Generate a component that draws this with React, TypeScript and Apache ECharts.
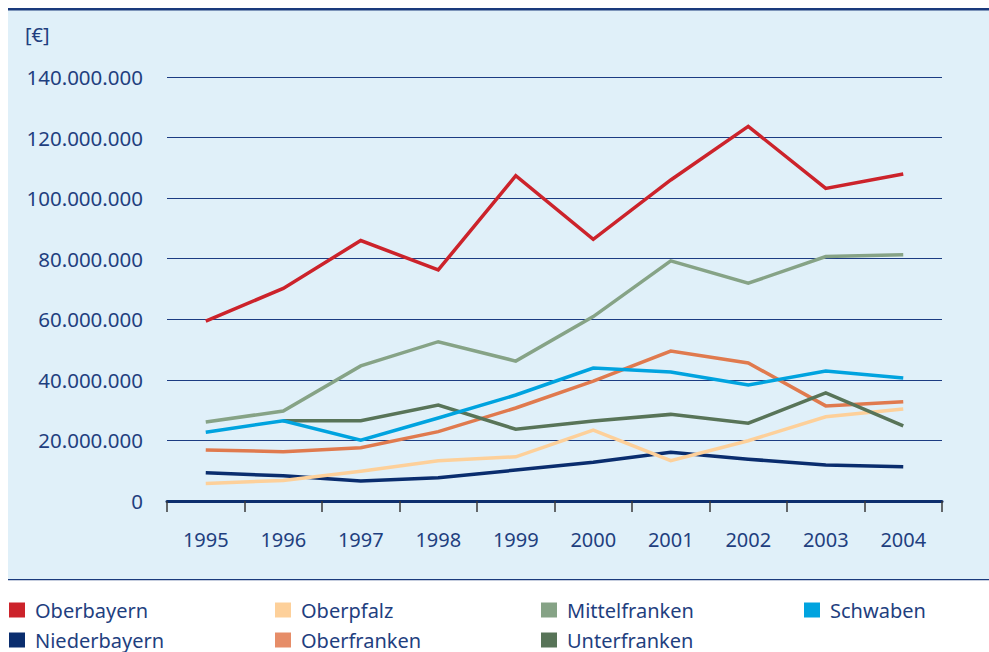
import React, { useEffect, useRef } from "react";
import * as echarts from "echarts";

const years = ["1995", "1996", "1997", "1998", "1999", "2000", "2001", "2002", "2003", "2004"];

const oberbayern = [59.4, 70.2, 86.0, 76.3, 107.4, 86.4, 106.0, 123.7, 103.2, 108.0];
const oberpfalz = [5.8, 6.8, 9.8, 13.3, 14.6, 23.4, 13.3, 19.9, 27.8, 30.4];
const mittelfranken = [26.1, 29.7, 44.6, 52.6, 46.2, 60.9, 79.3, 71.9, 80.7, 81.3];
const schwaben = [22.7, 26.5, 20.1, 27.4, 35.0, 43.9, 42.6, 38.3, 42.9, 40.6];
const niederbayern = [9.3, 8.3, 6.6, 7.7, 10.2, 12.8, 16.1, 13.8, 11.9, 11.3];
const oberfranken = [16.8, 16.3, 17.6, 22.9, 30.7, 39.6, 49.5, 45.6, 31.4, 32.8];
const unterfranken = [null, 26.5, 26.5, 31.7, 23.7, 26.4, 28.6, 25.7, 35.7, 24.8];

const yTicks = [0, 20000000, 40000000, 60000000, 80000000, 100000000, 120000000, 140000000];
const unitLabel = "[€]";

const FONT = "Noto Sans";
const TEXT = "#1f3f7f";
const NAVY = "#0d2f6e";

const toEuro = (arr: (number | null)[]) => arr.map((v) => (v == null ? null : Math.round(v * 1000000)));
const fmt = (v: number) => String(Math.round(v)).replace(/\B(?=(\d{3})+(?!\d))/g, ".");

const seriesDefs = [
  { name: "Niederbayern", data: niederbayern, color: "#0a2d6e", legendColor: "#0a2d6e" },
  { name: "Oberpfalz", data: oberpfalz, color: "#fdd09a", legendColor: "#fdd09a" },
  { name: "Oberfranken", data: oberfranken, color: "#e07a4e", legendColor: "#e68d68" },
  { name: "Unterfranken", data: unterfranken, color: "#587458", legendColor: "#587458" },
  { name: "Schwaben", data: schwaben, color: "#00a3df", legendColor: "#00a3df" },
  { name: "Mittelfranken", data: mittelfranken, color: "#86a386", legendColor: "#86a386" },
  { name: "Oberbayern", data: oberbayern, color: "#cc232b", legendColor: "#cc232b" },
];

const legendLayout = [
  { name: "Oberbayern", left: 9, top: 600 },
  { name: "Oberpfalz", left: 275, top: 600 },
  { name: "Mittelfranken", left: 541, top: 600 },
  { name: "Schwaben", left: 804, top: 600 },
  { name: "Niederbayern", left: 9, top: 630 },
  { name: "Oberfranken", left: 275, top: 630 },
  { name: "Unterfranken", left: 541, top: 630 },
];

export default function App() {
  const ref = useRef<HTMLDivElement>(null);
  useEffect(() => {
    document.body.style.margin = "0";
    if (!ref.current) return;
    const chart = echarts.init(ref.current, undefined, { renderer: "svg" });
    chart.setOption({
      animation: false,
      backgroundColor: "#ffffff",
      textStyle: { fontFamily: FONT },
      graphic: [
        { type: "rect", z: -100, shape: { x: 8, y: 10, width: 981, height: 569 }, style: { fill: "#e0f0f9" }, silent: true },
        { type: "rect", z: -99, shape: { x: 8, y: 8, width: 981, height: 2.5 }, style: { fill: "#1a3a7c" }, silent: true },
        { type: "rect", z: -99, shape: { x: 8, y: 579, width: 981, height: 1.2 }, style: { fill: "#1a3a7c" }, silent: true },
        {
          type: "text",
          left: 25,
          top: 24,
          style: { text: unitLabel, fill: TEXT, font: `20px "${FONT}"` },
        },
      ],
      grid: { left: 167, right: 47, top: 77, bottom: 151, containLabel: false },
      legend: legendLayout.map((l) => ({
        data: [l.name],
        left: l.left,
        top: l.top,
        padding: 0,
        icon: "rect",
        itemWidth: 16,
        itemHeight: 15,
        selectedMode: false,
        textStyle: { color: TEXT, fontSize: 20, fontFamily: FONT, padding: [0, 0, 0, 5] },
      })),
      xAxis: {
        type: "category",
        data: years,
        boundaryGap: true,
        axisLine: { show: true, lineStyle: { color: NAVY, width: 3 } },
        axisTick: { show: true, length: 11, lineStyle: { color: "#3a3a3a", width: 1.5 } },
        axisLabel: { color: TEXT, fontSize: 20, fontFamily: FONT, margin: 28 },
        splitLine: { show: false },
      },
      yAxis: {
        type: "value",
        min: 0,
        max: yTicks[yTicks.length - 1],
        interval: yTicks[1] - yTicks[0],
        axisLine: { show: false },
        axisTick: { show: false },
        axisLabel: { color: TEXT, fontSize: 20.5, fontFamily: FONT, margin: 24, formatter: (v: number) => fmt(v) },
        splitLine: { show: true, lineStyle: { color: "#1c3c82", width: 1 } },
      },
      series: seriesDefs.map((s) => ({
        name: s.name,
        type: "line",
        data: toEuro(s.data),
        symbol: "none",
        connectNulls: false,
        color: s.legendColor,
        lineStyle: { color: s.color, width: 3.5, join: "miter", cap: "butt" },
      })),
    });
    return () => chart.dispose();
  }, []);
  return <div ref={ref} style={{ width: 989, height: 652 }} />;
}
